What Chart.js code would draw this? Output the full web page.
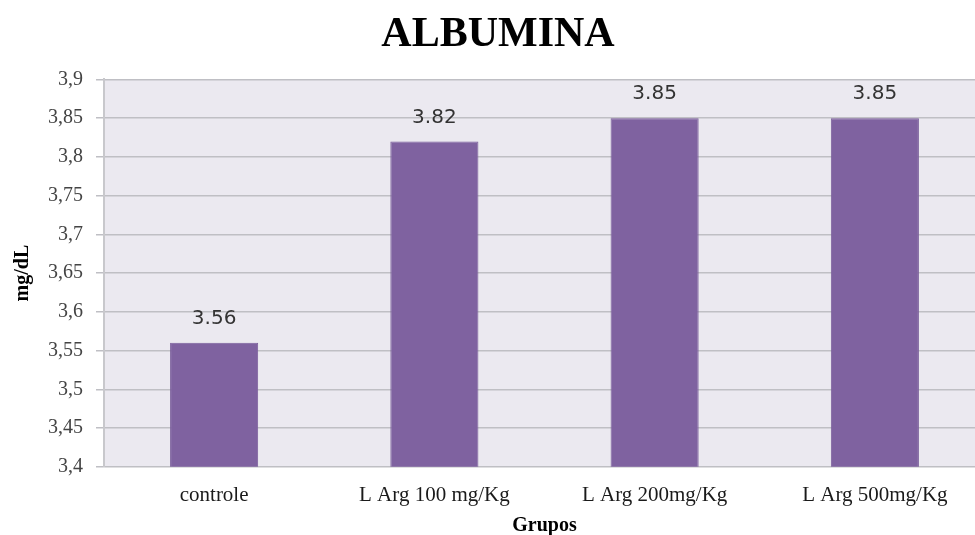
<!DOCTYPE html>
<html>
<head>
<meta charset="utf-8">
<script src="https://cdn.jsdelivr.net/npm/chart.js@4.4.1/dist/chart.umd.min.js"></script>
<style>
  html, body { margin: 0; padding: 0; background: #fff; overflow: hidden; }
  #wrap { width: 985px; height: 535px; }
</style>
</head>
<body>
<div id="wrap"><canvas id="albuminaCanvas"></canvas></div>
<script>
// dados do gráfico
const grupos = ['controle', 'L Arg 100 mg/Kg', 'L Arg 200mg/Kg', 'L Arg 500mg/Kg'];
const valores = [3.56, 3.82, 3.85, 3.85];
const rotulos = ['3.56', '3.82', '3.85', '3.85'];
const yMin = 3.4;
const yMax = 3.9;
const yStep = 0.05;

// fundo da área do gráfico
const fundoPlot = {
    id: 'fundoPlot',
    beforeDraw(chart) {
        const { ctx, chartArea } = chart;
        ctx.save();
        ctx.fillStyle = '#ebe9f0';
        ctx.fillRect(chartArea.left, chartArea.top, chartArea.right - chartArea.left, chartArea.bottom - chartArea.top);
        ctx.restore();
    }
};

// rótulos de valor acima das barras
const rotulosBarras = {
    id: 'rotulosBarras',
    afterDatasetsDraw(chart) {
        const ctx = chart.ctx;
        const meta = chart.getDatasetMeta(0);
        ctx.save();
        ctx.font = '20px "DejaVu Sans", sans-serif';
        ctx.fillStyle = '#333333';
        ctx.textAlign = 'center';
        ctx.textBaseline = 'middle';
        meta.data.forEach(function(bar, i) {
            ctx.fillText(rotulos[i], bar.x, bar.y - 24);
        });
        ctx.restore();
    }
};

const serif = '"Liberation Serif", "Times New Roman", serif';

const ctx = document.getElementById('albuminaCanvas').getContext('2d');
new Chart(ctx, {
    type: 'bar',
    data: {
        labels: grupos,
        datasets: [{
            data: valores,
            backgroundColor: '#7f62a0',
            borderColor: '#7a5e9b',
            borderWidth: 1,
            categoryPercentage: 1.0,
            barPercentage: 0.4
        }]
    },
    options: {
        responsive: true,
        maintainAspectRatio: false,
        animation: false,
        layout: { padding: { left: 11, right: 0, top: 10, bottom: -3 } },
        plugins: {
            legend: { display: false },
            tooltip: { enabled: false },
            title: {
                display: true,
                text: 'ALBUMINA',
                color: '#000000',
                font: { family: serif, size: 42, weight: 'bold' },
                padding: { top: 0, bottom: 19 }
            }
        },
        scales: {
            x: {
                grid: { display: false, drawTicks: false },
                border: { display: false },
                ticks: {
                    color: '#1a1a1a',
                    padding: 16,
                    font: { family: serif, size: 21 }
                },
                title: {
                    display: true,
                    text: 'Grupos',
                    color: '#000000',
                    padding: { top: -10, bottom: 0 },
                    font: { family: serif, size: 20, weight: 'bold' }
                }
            },
            y: {
                min: yMin,
                max: yMax,
                grid: { color: '#bfbfc4', lineWidth: 1.5, tickLength: 8 },
                border: { display: true, color: '#c8c8cc', width: 2 },
                ticks: {
                    stepSize: yStep,
                    color: '#444444',
                    padding: 13,
                    font: { family: serif, size: 20 },
                    callback: function(v) {
                        return (Math.round(v * 100) / 100).toString().replace('.', ',');
                    }
                },
                title: {
                    display: true,
                    text: 'mg/dL',
                    color: '#000000',
                    padding: { top: 0, bottom: 0 },
                    font: { family: serif, size: 20, weight: 'bold' }
                }
            }
        }
    },
    plugins: [fundoPlot, rotulosBarras]
});
</script>
</body>
</html>
